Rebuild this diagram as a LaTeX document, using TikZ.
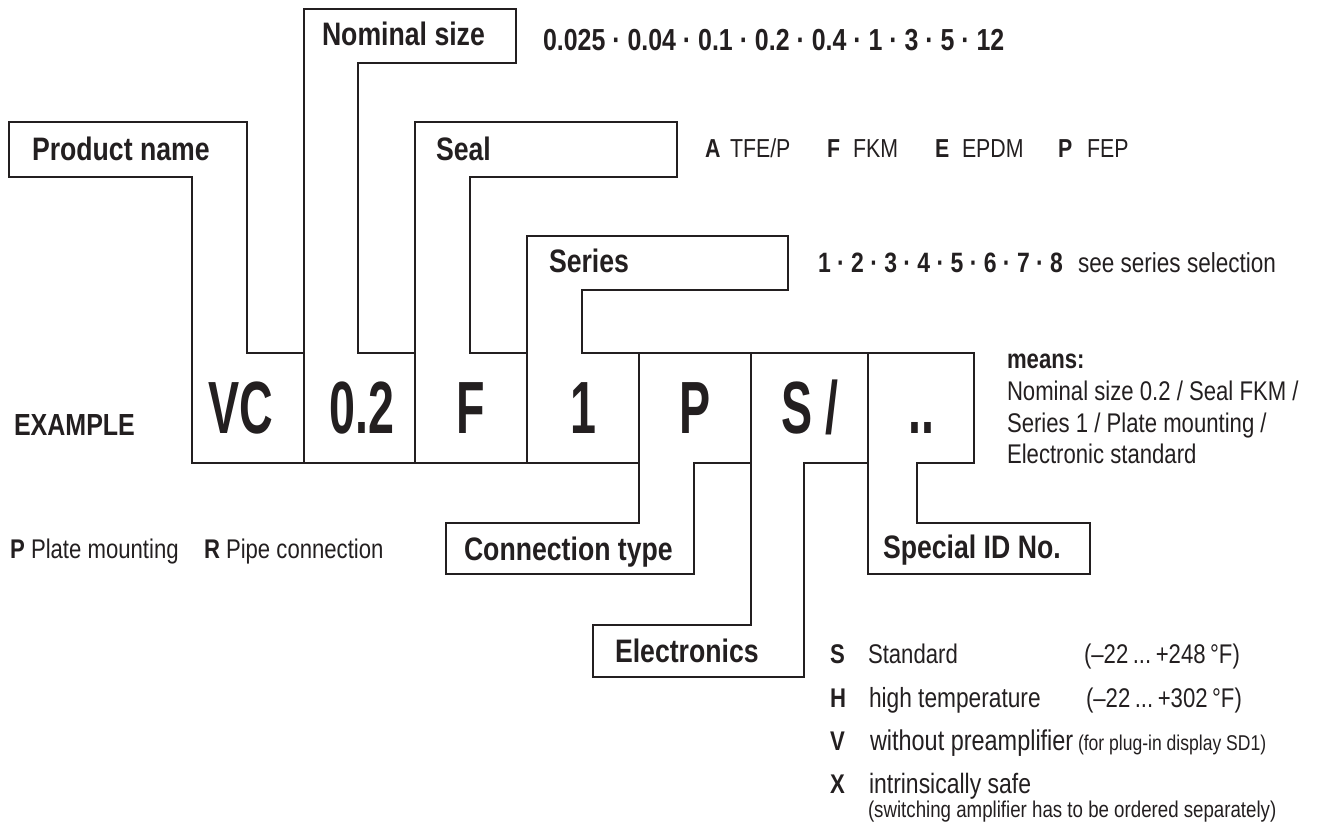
\documentclass[tikz,border=0pt]{standalone}
\usepackage{fontspec}
\setmainfont{Liberation Sans}[FakeStretch=0.82]
\newfontfamily\codefont{Liberation Sans}[FakeStretch=0.63]
\definecolor{ink}{HTML}{231F20}
\newcommand\fieldsize{\fontsize{32.5pt}{36pt}\selectfont\bfseries}
\newcommand\valsize{\fontsize{27pt}{32pt}\selectfont}
\newcommand\sz[1]{\fontsize{#1}{#1}\selectfont}

\begin{document}
\begin{tikzpicture}[x=1pt, y=-1pt, line width=2pt, draw=ink, text=ink,
  every node/.style={inner sep=0pt, anchor=base west},
  field/.style={font=\fieldsize},
  choice/.style={font=\valsize},
  key/.style={font=\valsize\bfseries},
  codechar/.style={anchor=base, font=\codefont\sz{74pt}\bfseries}]
\useasboundingbox (0,0) rectangle (1323,831);

% outlines: label box, strip and code cell in one piece
\draw (9,122) -- (247,122) -- (247,353) -- (303.6,353) -- (303.6,463) -- (192,463) -- (192,177) -- (9,177) -- cycle;
\draw (303.6,9) -- (515.6,9) -- (515.6,63) -- (358,63) -- (358,353) -- (415,353) -- (415,463) -- (303.6,463) -- cycle;
\draw (415,122) -- (677,122) -- (677,177) -- (470,177) -- (470,353) -- (527,353) -- (527,463) -- (415,463) -- cycle;
\draw (527,236) -- (788,236) -- (788,290) -- (582,290) -- (582,353) -- (639,353) -- (639,463) -- (527,463) -- cycle;
\draw (639,353) -- (751,353) -- (751,463) -- (694,463) -- (694,573.5) -- (446,573.5) -- (446,522.5) -- (639,522.5) -- cycle;
\draw (751,353) -- (868,353) -- (868,463) -- (804,463) -- (804,677) -- (593,677) -- (593,625) -- (751,625) -- cycle;
\draw (868,353) -- (974,353) -- (974,463) -- (917,463) -- (917,522.5) -- (1090,522.5) -- (1090,573.5) -- (868,573.5) -- cycle;

% field names
\node[field] (pn) at (31, 160)  {Product name};
\node[field] (ns) at (321, 45)  {Nominal size};
\node[field] (sl) at (435, 160) {Seal};
\node[field] (sr) at (548, 272) {Series};
\node[field] (ct) at (463, 560) {Connection type};
\node[field] (el) at (614, 662) {Electronics};
\node[field] (id) at (882, 558) {Special ID No.};
\node[field, font=\sz{30.5pt}\bfseries] (ex) at (13, 435) {EXAMPLE};

% code
\node[codechar] (cvc) at (240.5, 433) {VC};
\node[codechar] (cns) at (362, 433)   {0.2};
\node[codechar] (csl) at (471, 433)   {F};
\node[codechar] (csr) at (583, 433)   {1};
\node[codechar] (cct) at (695, 433)   {P};
\node[codechar] (cel) at (809.5, 433) {S /};
\node[codechar] (cid) at (921, 433)   {..};

% nominal sizes
\node[key, font=\sz{30.4pt}\bfseries] (nsv) at (542, 50) {0.025 · 0.04 · 0.1 · 0.2 · 0.4 · 1 · 3 · 5 · 12};

% seals
\node[key, font=\sz{26pt}\bfseries] (sla)  at (704, 157)  {A};
\node[choice, font=\sz{26pt}]       (slat) at (729, 157)  {TFE/P};
\node[key, font=\sz{26pt}\bfseries] (slf)  at (826, 157)  {F};
\node[choice, font=\sz{26pt}]       (slft) at (852, 157)  {FKM};
\node[key, font=\sz{26pt}\bfseries] (sle)  at (934, 157)  {E};
\node[choice, font=\sz{26pt}]       (slet) at (961, 157)  {EPDM};
\node[key, font=\sz{26pt}\bfseries] (slp)  at (1057, 157) {P};
\node[choice, font=\sz{26pt}]       (slpt) at (1086, 157) {FEP};

% series
\node[key, font=\sz{28pt}\bfseries] (srv)  at (817, 272)  {1 · 2 · 3 · 4 · 5 · 6 · 7 · 8};
\node[choice, font=\sz{27.5pt}]     (srvt) at (1077, 272) {see series selection};

% meaning of the example
\node[key]    (mn)  at (1006, 368) {means:};
\node[choice] (mn1) at (1006, 400) {Nominal size 0.2 / Seal FKM /};
\node[choice] (mn2) at (1006, 432) {Series 1 / Plate mounting /};
\node[choice] (mn3) at (1006, 463) {Electronic standard};

% connection types
\node[key]    (ctp)  at (9, 558)   {P};
\node[choice] (ctpt) at (30, 558)  {Plate mounting};
\node[key]    (ctr)  at (203, 558) {R};
\node[choice] (ctrt) at (225, 558) {Pipe connection};

% electronics
\node[key]    (els)  at (829, 663)  {S};
\node[choice] (elst) at (867, 663)  {Standard};
\node[choice] (elsr) at (1083, 663) {(–22\,...\,+248\,°F)};
\node[key]    (elh)  at (829, 707)  {H};
\node[choice, font=\sz{27.7pt}] (elht) at (868, 707) {high temperature};
\node[choice] (elhr) at (1085, 707) {(–22\,...\,+302\,°F)};
\node[key]    (elv)  at (829, 750)  {V};
\node[choice, font=\sz{28.6pt}] (elvt) at (869, 750) {without preamplifier};
\node[choice, font=\sz{21.4pt}] (elvn) at (1077, 750) {(for plug-in display SD1)};
\node[key]    (elx)  at (829, 793)  {X};
\node[choice, font=\sz{28pt}] (elxt) at (868, 793) {intrinsically safe};
\node[choice, font=\sz{22.8pt}] (elxn) at (867, 817) {(switching amplifier has to be ordered separately)};
\end{tikzpicture}
\end{document}
